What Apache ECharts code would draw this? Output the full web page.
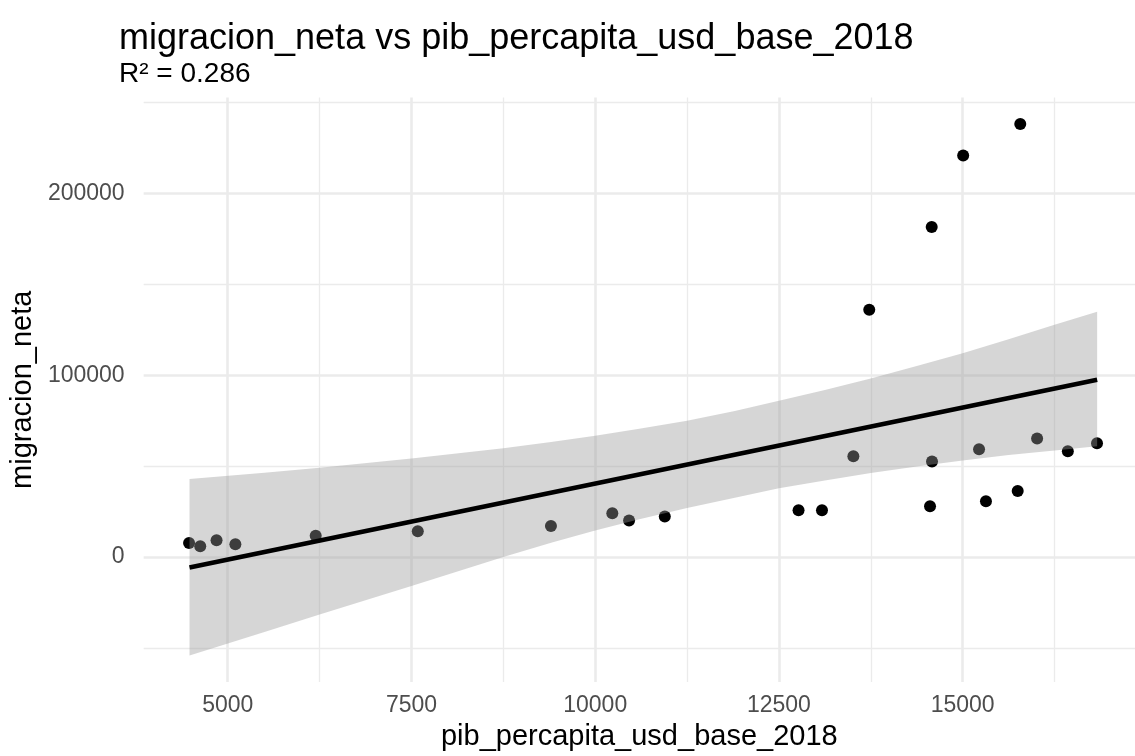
<!DOCTYPE html>
<html>
<head>
<meta charset="utf-8">
<script src="https://cdn.jsdelivr.net/npm/echarts@6/dist/echarts.min.js"></script>
<style>
  html, body { margin: 0; padding: 0; background: #ffffff; }
  #main { width: 1135px; height: 756px; }
</style>
</head>
<body>
<div id="main"></div>
<script>
// puntos observados (pib per capita, migracion neta)
const pibX = [4474, 4626, 4848, 5104, 6197, 7586, 9398, 10233, 10461, 10947,
  12767, 13086, 13513, 13729, 14556, 14579, 14583, 15007, 15223, 15317,
  15749, 15784, 16013, 16431, 16828];
const migracionY = [7760, 5960, 9230, 7050, 11750, 14150, 17050, 24150, 20160, 22350,
  25790, 25790, 55470, 136000, 27980, 181530, 52570, 220870, 59290, 30710,
  36340, 238200, 65300, 58200, 62570];

// recta de ajuste lm (extremos)
const fitX = [4480, 16830];
const fitY = [-5740, 97540];

// banda de confianza (bordes)
const bandX = [4480, 5500, 6250, 7500, 8750, 9400, 10000, 10600, 11250, 11900,
  12500, 13125, 13750, 14375, 15000, 15625, 16250, 16830];
const bandUpper = [42900, 46400, 49200, 54200, 59900, 63300, 66800, 70600, 75000, 80300,
  86000, 91900, 98300, 105100, 112100, 119800, 127800, 135000];
const bandLower = [-54150, -41200, -31600, -15900, 0, 7900, 14600, 20800, 27000, 32700,
  37800, 42200, 46200, 49800, 53100, 56100, 58700, 61000];

// ticks y rejilla
const xTicks = [5000, 7500, 10000, 12500, 15000];
const xMinor = [6250, 8750, 11250, 13750, 16250];
const yTicks = [0, 100000, 200000];
const yMinor = [-50000, 50000, 150000, 250000];

const FONT = 'Liberation Sans, Arial, Helvetica, sans-serif';
const GRID = '#EBEBEB';

const chart = echarts.init(document.getElementById('main'), null, { renderer: 'canvas' });

const gridLines = [
  ...xTicks.map(v => ({ xAxis: v, lineStyle: { width: 2.6 } })),
  ...xMinor.map(v => ({ xAxis: v, lineStyle: { width: 1.3 } })),
  ...yTicks.map(v => ({ yAxis: v, lineStyle: { width: 2.6 } })),
  ...yMinor.map(v => ({ yAxis: v, lineStyle: { width: 1.3 } }))
];

const option = {
  animation: false,
  backgroundColor: '#ffffff',
  title: [
    {
      text: 'migracion_neta vs pib_percapita_usd_base_2018',
      left: 119, top: 21, padding: 0,
      textStyle: { fontFamily: FONT, fontSize: 36, fontWeight: 'normal', color: '#000000' }
    },
    {
      text: 'R² = 0.286',
      left: 119, top: 60, padding: 0,
      textStyle: { fontFamily: FONT, fontSize: 28, fontWeight: 'normal', color: '#000000' }
    }
  ],
  grid: { left: 135, right: 0, top: 97.5, bottom: 70, containLabel: false },
  xAxis: {
    type: 'value',
    min: 3856,
    max: 17345,
    name: 'pib_percapita_usd_base_2018',
    nameLocation: 'middle',
    nameGap: 37,
    nameTextStyle: { fontFamily: FONT, fontSize: 29, color: '#000000' },
    axisLine: { show: false },
    axisTick: { show: false },
    splitLine: { show: false },
    axisLabel: {
      customValues: xTicks,
      formatter: v => String(v),
      margin: 12,
      fontFamily: FONT, fontSize: 23, color: '#4D4D4D'
    }
  },
  yAxis: {
    type: 'value',
    min: -68768,
    max: 252818,
    name: 'migracion_neta',
    nameLocation: 'middle',
    nameGap: 103,
    nameTextStyle: { fontFamily: FONT, fontSize: 29, color: '#000000' },
    axisLine: { show: false },
    axisTick: { show: false },
    splitLine: { show: false },
    axisLabel: {
      customValues: yTicks,
      formatter: v => String(v),
      margin: 19,
      fontFamily: FONT, fontSize: 23, color: '#4D4D4D'
    }
  },
  series: [
    {
      name: 'rejilla',
      type: 'line',
      data: [],
      z: 0,
      silent: true,
      markLine: {
        silent: true,
        z: 1,
        symbol: ['none', 'none'],
        label: { show: false },
        lineStyle: { color: GRID, type: 'solid' },
        data: gridLines
      }
    },
    {
      name: 'puntos',
      type: 'scatter',
      data: pibX.map((x, i) => [x, migracionY[i]]),
      symbol: 'circle',
      symbolSize: 12,
      itemStyle: { color: '#000000', opacity: 1 },
      z: 6
    },
    {
      name: 'banda',
      type: 'custom',
      silent: true,
      z: 7,
      data: [[bandX[0], bandUpper[0]]],
      encode: { x: 0, y: 1 },
      renderItem: function (params, api) {
        const pts = [];
        for (let i = 0; i < bandX.length; i++) pts.push(api.coord([bandX[i], bandUpper[i]]));
        for (let i = bandX.length - 1; i >= 0; i--) pts.push(api.coord([bandX[i], bandLower[i]]));
        return {
          type: 'polygon',
          shape: { points: pts },
          style: { fill: 'rgba(153,153,153,0.4)' }
        };
      }
    },
    {
      name: 'ajuste',
      type: 'line',
      data: fitX.map((x, i) => [x, fitY[i]]),
      showSymbol: false,
      lineStyle: { color: '#000000', width: 4.8 },
      z: 8
    }
  ]
};

chart.setOption(option);
</script>
</body>
</html>
